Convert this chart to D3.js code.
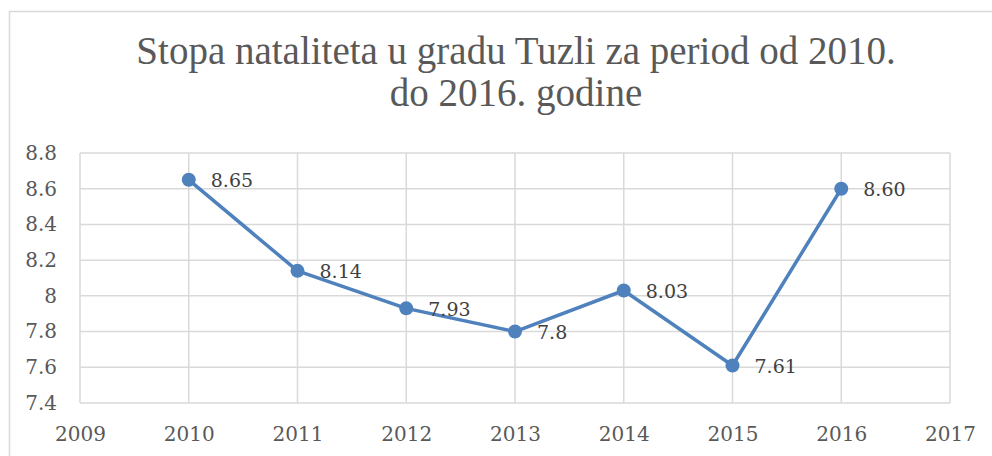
<!DOCTYPE html>
<html>
<head>
<meta charset="utf-8">
<script src="https://cdn.jsdelivr.net/npm/d3@7"></script>
<style>
  body { margin: 0; background: #fff; }
</style>
</head>
<body>
<div id="chart"></div>
<script>
const years = [2010, 2011, 2012, 2013, 2014, 2015, 2016];
const rates = [8.65, 8.14, 7.93, 7.8, 8.03, 7.61, 8.60];
const labels = ['8.65', '8.14', '7.93', '7.8', '8.03', '7.61', '8.60'];
const xTicks = [2009, 2010, 2011, 2012, 2013, 2014, 2015, 2016, 2017];
const yTicks = [7.4, 7.6, 7.8, 8, 8.2, 8.4, 8.6, 8.8];
const titleLines = ['Stopa nataliteta u gradu Tuzli za period od 2010.', 'do 2016. godine'];

const width = 992, height = 456;
const margin = { top: 153, right: 42, bottom: 53, left: 80 };
const labelFont = "'DejaVu Serif', serif";

const svg = d3.select('#chart').append('svg')
  .attr('width', width)
  .attr('height', height);

// chart frame
svg.append('rect')
  .attr('x', 9.5).attr('y', 11.5)
  .attr('width', 1000).attr('height', 500)
  .attr('fill', '#fff')
  .attr('stroke', '#d9d9d9')
  .attr('stroke-width', 1.5);

const x = d3.scaleLinear()
  .domain([2009, 2017])
  .range([margin.left, width - margin.right]);

const y = d3.scaleLinear()
  .domain([7.4, 8.8])
  .range([height - margin.bottom, margin.top]);

// gridlines
svg.append('g')
  .selectAll('line')
  .data(yTicks)
  .join('line')
  .attr('x1', margin.left).attr('x2', width - margin.right)
  .attr('y1', d => y(d)).attr('y2', d => y(d))
  .attr('stroke', '#d9d9d9').attr('stroke-width', 1.5);

svg.append('g')
  .selectAll('line')
  .data(xTicks)
  .join('line')
  .attr('x1', d => x(d)).attr('x2', d => x(d))
  .attr('y1', margin.top).attr('y2', height - margin.bottom)
  .attr('stroke', '#d9d9d9').attr('stroke-width', 1.5);

// axes (labels only)
const yAxis = svg.append('g')
  .attr('transform', `translate(${margin.left},0)`)
  .call(d3.axisLeft(y).tickValues(yTicks).tickSize(0).tickPadding(23).tickFormat(d3.format('')));
yAxis.select('.domain').remove();
yAxis.selectAll('text')
  .style('font-family', labelFont)
  .style('font-size', '20px')
  .attr('fill', '#595959');

const xAxis = svg.append('g')
  .attr('transform', `translate(0,${height - margin.bottom})`)
  .call(d3.axisBottom(x).tickValues(xTicks).tickSize(0).tickPadding(24).tickFormat(d3.format('d')));
xAxis.select('.domain').remove();
xAxis.selectAll('text')
  .style('font-family', labelFont)
  .style('font-size', '20px')
  .attr('fill', '#595959');

// line
const line = d3.line()
  .x((d, i) => x(years[i]))
  .y(d => y(d));

svg.append('path')
  .datum(rates)
  .attr('d', line)
  .attr('fill', 'none')
  .attr('stroke', '#4f81bd')
  .attr('stroke-width', 3.5)
  .attr('stroke-linejoin', 'round');

svg.append('g')
  .selectAll('circle')
  .data(rates)
  .join('circle')
  .attr('cx', (d, i) => x(years[i]))
  .attr('cy', d => y(d))
  .attr('r', 7)
  .attr('fill', '#4f81bd');

svg.append('g')
  .selectAll('text')
  .data(rates)
  .join('text')
  .attr('x', (d, i) => x(years[i]) + 22)
  .attr('y', d => y(d))
  .attr('dy', '0.38em')
  .style('font-family', labelFont)
  .style('font-size', '19px')
  .attr('fill', '#404040')
  .text((d, i) => labels[i]);

// title
svg.append('text')
  .attr('text-anchor', 'middle')
  .style('font-family', "'Liberation Serif', serif")
  .style('font-size', '39px')
  .attr('fill', '#595959')
  .selectAll('tspan')
  .data(titleLines)
  .join('tspan')
  .attr('x', 516)
  .attr('y', (d, i) => 64 + i * 42)
  .text(d => d);
</script>
</body>
</html>
